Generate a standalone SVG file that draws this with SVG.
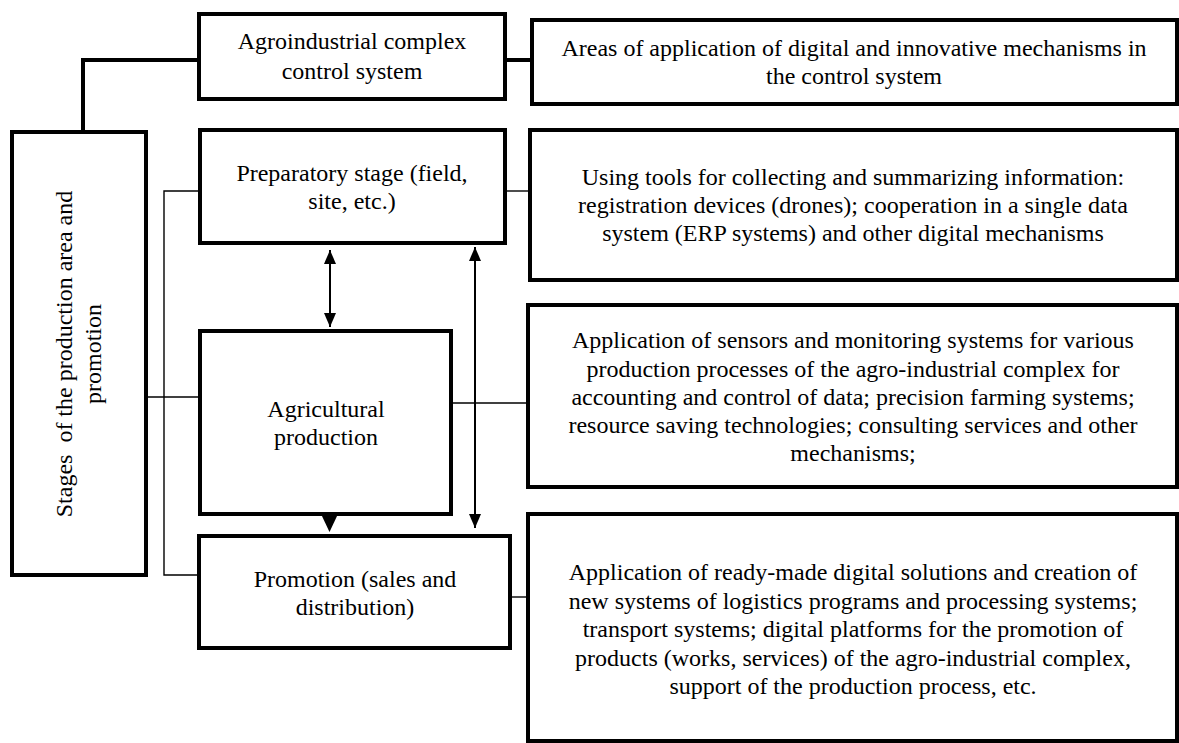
<svg xmlns="http://www.w3.org/2000/svg" width="1179" height="743" viewBox="0 0 1179 743">
  <style>
    .box { fill: #fff; stroke: #000; stroke-width: 4; }
    .t { font-family: "Liberation Serif", "Times New Roman", serif; font-size: 24px; fill: #000; text-anchor: middle; }
    .thick { fill: none; stroke: #000; stroke-width: 4; }
    .thin { fill: none; stroke: #000; stroke-width: 1.4; }
    .arr { fill: none; stroke: #000; stroke-width: 2; }
  </style>
  <defs>
    <marker id="ah" viewBox="0 0 14 12" refX="14" refY="6" markerWidth="14" markerHeight="12" markerUnits="userSpaceOnUse" orient="auto-start-reverse">
      <path d="M0,0 L14,6 L0,12 Z" fill="#000"/>
    </marker>
  </defs>
  <rect width="1179" height="743" fill="#fff"/>

  <g id="connectors">
    <path class="thick" d="M199,60 H83 V132"/>
    <path class="thick" d="M505,60 H532"/>
    <path class="thin" d="M146,397 H200"/>
    <path class="thin" d="M200,191 H164 V575 H199"/>
    <path class="thin" d="M505,191 H530"/>
    <path class="thin" d="M451,403 H527"/>
    <path class="thin" d="M510,597 H528"/>
    <line class="arr" x1="330" y1="250" x2="330" y2="327" marker-start="url(#ah)" marker-end="url(#ah)"/>
    <line class="arr" x1="475" y1="247" x2="475" y2="528" marker-start="url(#ah)" marker-end="url(#ah)"/>
    <polygon points="321,514 338,514 329.5,532" fill="#000"/>
  </g>

  <g id="node-control">
    <rect class="box" x="199" y="14" width="306" height="85"/>
    <text class="t"><tspan x="352" y="49">Agroindustrial complex</tspan><tspan x="352" y="79">control system</tspan></text>
  </g>

  <g id="node-areas">
    <rect class="box" x="532" y="20" width="645" height="84"/>
    <text class="t"><tspan x="854" y="56">Areas of application of digital and innovative mechanisms in</tspan><tspan x="854" y="84">the control system</tspan></text>
  </g>

  <g id="node-stages">
    <rect class="box" x="12" y="132" width="134" height="443"/>
    <text class="t" style="white-space:pre" transform="translate(79,354) rotate(-90)" xml:space="preserve"><tspan x="0" y="-7">Stages  of the production area and</tspan><tspan x="0" y="22">promotion</tspan></text>
  </g>

  <g id="node-preparatory">
    <rect class="box" x="200" y="130" width="305" height="113"/>
    <text class="t"><tspan x="352" y="181">Preparatory stage (field,</tspan><tspan x="352" y="209">site, etc.)</tspan></text>
  </g>

  <g id="node-tools">
    <rect class="box" x="530" y="130" width="647" height="150"/>
    <text class="t"><tspan x="853" y="185">Using tools for collecting and summarizing information:</tspan><tspan x="853" y="213">registration devices (drones); cooperation in a single data</tspan><tspan x="853" y="241">system (ERP systems) and other digital mechanisms</tspan></text>
  </g>

  <g id="node-agricultural">
    <rect class="box" x="200" y="331" width="251" height="183"/>
    <text class="t"><tspan x="326" y="417">Agricultural</tspan><tspan x="326" y="445">production</tspan></text>
  </g>

  <g id="node-sensors">
    <rect class="box" x="528" y="305" width="649" height="182"/>
    <text class="t"><tspan x="853" y="348">Application of sensors and monitoring systems for various</tspan><tspan x="853" y="376.5">production processes of the agro-industrial complex for</tspan><tspan x="853" y="405">accounting and control of data; precision farming systems;</tspan><tspan x="853" y="433">resource saving technologies; consulting services and other</tspan><tspan x="853" y="461">mechanisms;</tspan></text>
  </g>

  <g id="node-promotion">
    <rect class="box" x="199" y="536" width="311" height="112"/>
    <text class="t"><tspan x="355" y="587">Promotion (sales and</tspan><tspan x="355" y="615">distribution)</tspan></text>
  </g>

  <g id="node-digital">
    <rect class="box" x="528" y="514" width="649" height="227"/>
    <text class="t"><tspan x="853" y="580">Application of ready-made digital solutions and creation of</tspan><tspan x="853" y="608.5">new systems of logistics programs and processing systems;</tspan><tspan x="853" y="637">transport systems; digital platforms for the promotion of</tspan><tspan x="853" y="665.5">products (works, services) of the agro-industrial complex,</tspan><tspan x="853" y="694">support of the production process, etc.</tspan></text>
  </g>
</svg>
